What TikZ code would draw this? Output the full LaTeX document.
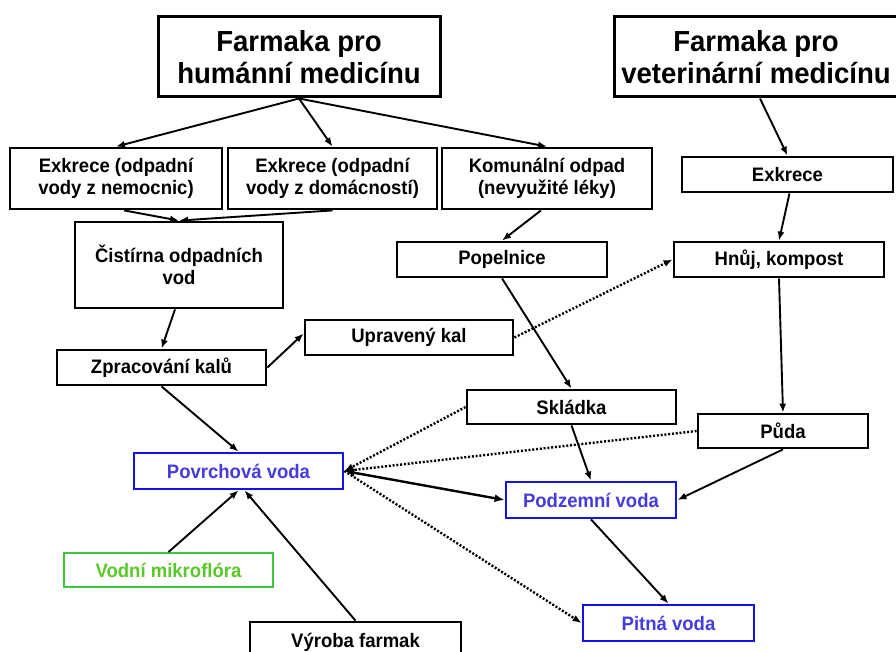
\documentclass[tikz,border=0pt]{standalone}
\usepackage{fontspec}
\newfontfamily\nar{Liberation Sans}[FakeStretch=0.95]
\usetikzlibrary{arrows.meta}
\definecolor{bbox}{RGB}{20,20,230}
\definecolor{btext}{RGB}{70,60,220}
\definecolor{gbox}{RGB}{60,200,60}
\definecolor{gtext}{RGB}{90,200,40}
\begin{document}
\begin{tikzpicture}[x=1pt,y=-1pt,
  box/.style={draw=black, line width=2.8pt, align=center, inner sep=0pt,
    font=\nar\bfseries\fontsize{19.5}{22}\selectfont},
  big/.style={draw=black, line width=3pt, align=center, inner sep=0pt,
    font=\nar\bfseries\fontsize{29}{32}\selectfont},
  bluebox/.style={box, draw=bbox, text=btext},
  greenbox/.style={box, draw=gbox, text=gtext, line width=2pt},
  arr/.style={draw=black, line width=1.9pt, -{Latex[length=9pt,width=7pt]}},
  dot/.style={draw=black, line width=2.4pt, dash pattern=on 2pt off 1.8pt, -{Latex[length=9pt,width=7pt]}},
  bi/.style={draw=black, line width=2.4pt, {Latex[length=10pt,width=8pt]}-{Latex[length=10pt,width=8pt]}},
]
\useasboundingbox (0,0) rectangle (896,652);
\fill[white] (0,0) rectangle (896,652);

\node[big, minimum width=282pt, minimum height=80pt] (hum) at (299,57) {Farmaka pro\\humánní medicínu};
\node[big, minimum width=284pt, minimum height=80pt] (vet) at (756,57) {Farmaka pro\\veterinární medicínu};

\node[box, minimum width=212pt, minimum height=61pt] (e1) at (116,178.5) {Exkrece (odpadní\\vody z nemocnic)};
\node[box, minimum width=209pt, minimum height=61pt] (e2) at (332.5,178.5) {Exkrece (odpadní\\vody z domácností)};
\node[box, minimum width=210pt, minimum height=61pt] (kom) at (547,178.5) {Komunální odpad\\(nevyužité léky)};
\node[box, minimum width=211pt, minimum height=35pt] (ex) at (787.5,174.5) {Exkrece};

\node[box, minimum width=208pt, minimum height=86pt] (cis) at (179,265) {Čistírna odpadních\\vod};
\node[box, minimum width=210pt, minimum height=35pt] (pop) at (502,259.5) {Popelnice};
\node[box, minimum width=210pt, minimum height=35pt] (hnuj) at (779,259.5) {Hnůj, kompost};

\node[box, minimum width=208pt, minimum height=35pt] (upr) at (409,337.5) {Upravený kal};
\node[box, minimum width=209pt, minimum height=35pt] (zpr) at (161.5,367.5) {Zpracování kalů};
\node[box, minimum width=209pt, minimum height=34pt] (skl) at (571.5,407) {Skládka};
\node[box, minimum width=170pt, minimum height=34pt] (puda) at (783,431) {Půda};

\node[bluebox, minimum width=209pt, minimum height=36pt] (pov) at (238.5,471) {Povrchová voda};
\node[bluebox, minimum width=170pt, minimum height=36pt] (pod) at (591,500) {Podzemní voda};
\node[greenbox, minimum width=209pt, minimum height=34pt] (vod) at (168.5,570) {Vodní mikroflóra};
\node[bluebox, minimum width=171pt, minimum height=36pt] (pit) at (668.5,623) {Pitná voda};
\node[box, minimum width=211pt, minimum height=40pt] (vyr) at (355.5,642) {Výroba farmak};

\draw[arr] (hum.south) -- (e1.north);
\draw[arr] (hum.south) -- (e2.north);
\draw[arr] (hum.south) -- (kom.north);
\draw[arr] ([xshift=4pt]vet.south) -- (ex.north);

\draw[arr] ([xshift=8pt]e1.south) -- (cis.north);
\draw[arr] (e2.south) -- (cis.north);
\draw[arr] ([xshift=-6pt]kom.south) -- (pop.north);
\draw[arr] ([xshift=2pt]ex.south) -- (hnuj.north);

\draw[arr] ([xshift=-4pt]cis.south) -- (zpr.north);
\draw[arr] (zpr.east) -- ([yshift=4pt]upr.west);
\draw[dot] (upr.east) -- (hnuj.west);
\draw[arr] (pop.south) -- (skl.north);
\draw[arr] (hnuj.south) -- (puda.north);

\draw[arr] (zpr.south) -- (pov.north);
\draw[dot] (skl.west) -- (pov.east);
\draw[dot] (puda.west) -- (pov.east);
\draw[bi] (pov.east) -- (pod.west);
\draw[dot] (pov.east) -- (pit.west);

\draw[arr] (skl.south) -- (pod.north);
\draw[arr] (puda.south) -- (pod.east);
\draw[arr] (pod.south) -- (pit.north);

\draw[arr] (vod.north) -- (pov.south);
\draw[arr] (vyr.north) -- ([xshift=6pt]pov.south);
\end{tikzpicture}
\end{document}
